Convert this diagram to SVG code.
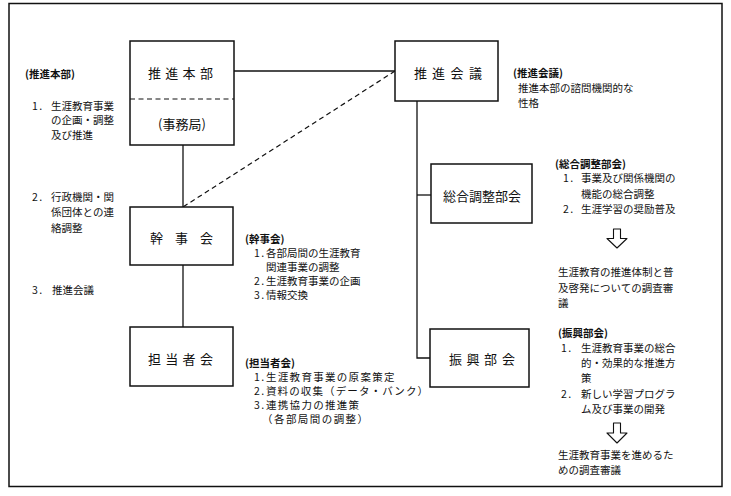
<svg xmlns="http://www.w3.org/2000/svg" width="731" height="496" viewBox="0 0 731 496">
<style>
  .t{font-family:"Noto Sans CJK JP","Noto Sans CJK SC",sans-serif;font-size:10.5px;fill:#111;dominant-baseline:central}
  .h{font-weight:bold}
  .n{letter-spacing:1.5px}
  .b{font-family:"Noto Sans CJK JP","Noto Sans CJK SC",sans-serif;font-size:13px;fill:#111;dominant-baseline:central}
  .box{fill:#fff;stroke:#111;stroke-width:1.5}
  .ln{fill:none;stroke:#111;stroke-width:1.3}
  .dl{fill:none;stroke:#111;stroke-width:1.2;stroke-dasharray:5 3.5}
  .ar{fill:#fff;stroke:#111;stroke-width:1.1;stroke-linejoin:round}
  .w{letter-spacing:1.3px}
</style>
<rect x="9" y="3.5" width="713" height="483" fill="#fff" stroke="#111" stroke-width="1.5"/>

<g id="connectors">
  <line class="ln" x1="234" y1="71" x2="395" y2="71"/>
  <line class="dl" x1="395" y1="71" x2="183" y2="207"/>
  <line class="ln" x1="183" y1="145" x2="183" y2="207"/>
  <line class="ln" x1="183" y1="265" x2="183" y2="327"/>
  <polyline class="ln" points="417,101 417,358 430,358"/>
  <line class="ln" x1="417" y1="195" x2="431" y2="195"/>
</g>

<g id="honbu">
  <rect class="box" x="130" y="41" width="104" height="104"/>
  <line class="dl" x1="130" y1="99" x2="234" y2="99"/>
  <text class="b" x="148 165.3 182.6 200" y="72">推進本部</text>
  <text class="b" x="182" y="123" text-anchor="middle">(事務局)</text>
</g>

<g id="kaigi">
  <rect class="box" x="395" y="41" width="103" height="60"/>
  <text class="b" x="414 432 450.5 469" y="72">推進会議</text>
</g>

<g id="kanjikai">
  <rect class="box" x="130" y="207" width="103" height="58"/>
  <text class="b" x="150 175 200" y="237">幹事会</text>
</g>

<g id="tantoushakai">
  <rect class="box" x="130" y="327" width="103" height="59"/>
  <text class="b" x="148 165.3 182.6 200" y="358">担当者会</text>
</g>

<g id="sougou">
  <rect class="box" x="431" y="164" width="101" height="59"/>
  <text class="b" x="443" y="195">総合調整部会</text>
</g>

<g id="shinkou">
  <rect class="box" x="430" y="329" width="99" height="58"/>
  <text class="b" x="449 466.5 484 502" y="358">振興部会</text>
</g>

<g id="text-honbu">
  <text class="t h" x="25" y="73">(推進本部)</text>
  <text class="t n" x="32" y="105">1.</text><text class="t" x="51" y="105">生涯教育事業</text>
  <text class="t" x="51" y="119">の企画・調整</text>
  <text class="t" x="51" y="134">及び推進</text>
  <text class="t n" x="32" y="196">2.</text><text class="t" x="51" y="196">行政機関・関</text>
  <text class="t" x="51" y="211">係団体との連</text>
  <text class="t" x="51" y="227">絡調整</text>
  <text class="t n" x="32" y="289">3.</text><text class="t" x="52" y="289">推進会議</text>
</g>

<g id="text-kanjikai">
  <text class="t h" x="245" y="238">(幹事会)</text>
  <text class="t n" x="254" y="252">1.</text><text class="t" x="266" y="252">各部局間の生涯教育</text>
  <text class="t" x="266" y="266">関連事業の調整</text>
  <text class="t n" x="254" y="280">2.</text><text class="t" x="266" y="280">生涯教育事業の企画</text>
  <text class="t n" x="254" y="294">3.</text><text class="t" x="266" y="294">情報交換</text>
</g>

<g id="text-tantou">
  <text class="t h" x="245" y="362">(担当者会)</text>
  <text class="t n" x="254" y="376">1.</text><text class="t w" x="266" y="376">生涯教育事業の原案策定</text>
  <text class="t n" x="254" y="390">2.</text><text class="t" x="266" y="390" textLength="162" lengthAdjust="spacing">資料の収集（データ・バンク）</text>
  <text class="t n" x="254" y="404">3.</text><text class="t w" x="266" y="404">連携協力の推進策</text>
  <text class="t" x="262" y="418" textLength="106" lengthAdjust="spacing">（各部局間の調整）</text>
</g>

<g id="text-kaigi">
  <text class="t h" x="513" y="72">(推進会議)</text>
  <text class="t" x="518" y="87">推進本部の諮問機関的な</text>
  <text class="t" x="518" y="102">性格</text>
</g>

<g id="text-sougou">
  <text class="t h" x="555" y="163">(総合調整部会)</text>
  <text class="t n" x="563" y="177">1.</text><text class="t" x="581" y="177">事業及び関係機関の</text>
  <text class="t" x="581" y="193">機能の総合調整</text>
  <text class="t n" x="563" y="208">2.</text><text class="t" x="581" y="208">生涯学習の奨励普及</text>
  <path class="ar" d="M613.5,229 L620.5,229 L620.5,238.5 L627,238.5 L617,248 L607,238.5 L613.5,238.5 Z"/>
  <text class="t" x="558" y="271">生涯教育の推進体制と普</text>
  <text class="t" x="558" y="287">及啓発についての調査審</text>
  <text class="t" x="558" y="302">議</text>
</g>

<g id="text-shinkou">
  <text class="t h" x="558" y="332">(振興部会)</text>
  <text class="t n" x="561" y="347">1.</text><text class="t" x="581" y="347">生涯教育事業の総合</text>
  <text class="t" x="581" y="362">的・効果的な推進方</text>
  <text class="t" x="581" y="377">策</text>
  <text class="t n" x="561" y="393">2.</text><text class="t" x="581" y="393">新しい学習プログラ</text>
  <text class="t" x="581" y="408">ム及び事業の開発</text>
  <path class="ar" d="M613.5,423 L620.5,423 L620.5,433 L627,433 L617,443 L607,433 L613.5,433 Z"/>
  <text class="t" x="558" y="454">生涯教育事業を進めるた</text>
  <text class="t" x="558" y="469">めの調査審議</text>
</g>
</svg>
